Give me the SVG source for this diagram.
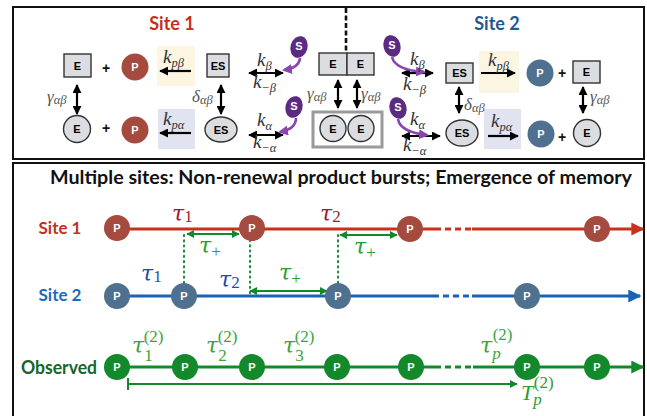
<svg xmlns="http://www.w3.org/2000/svg" width="647" height="416" viewBox="0 0 647 416">
  <style>
    .panel { fill: #ffffff; stroke: #111111; stroke-width: 2; }
    .box { fill: #dcdde0; stroke: #333333; stroke-width: 1.4; }
    .lbl { font-family: "Liberation Sans", Arial, sans-serif; font-weight: bold; font-size: 11px; text-anchor: middle; dominant-baseline: central; }
    .wl { fill: #ffffff; }
    .title { font-family: Lato, "Liberation Sans", sans-serif; font-weight: bold; }
    .plus { font-family: "Liberation Sans", Arial, sans-serif; font-weight: bold; font-size: 14px; text-anchor: middle; dominant-baseline: central; fill: #111; }
    .m { font-family: "Liberation Serif", "Times New Roman", serif; font-style: italic; }
    .rm { font-style: normal; font-family: "Liberation Serif", "Times New Roman", serif; }
    .k { font-size: 19px; fill: #333; }
    .g { font-size: 17px; fill: #555; }
    .sub { font-size: 12.5px; }
    .tau { font-family: "DejaVu Serif", "Liberation Serif", serif; font-style: italic; font-size: 22px; }
    .tsub { font-size: 17px; }
    .arr { stroke: #000; stroke-width: 2.2; fill: none; }
    .parr { stroke: #8a45b0; stroke-width: 2.6; fill: none; }
    .sub-s { fill: #5b2a82; }
    .pred { fill: #a54a3e; }
    .pblue { fill: #50708f; }
    .pgreen { fill: #14892c; }
    .dot { stroke: #1f8a34; stroke-width: 2; stroke-dasharray: 1.2 4; stroke-linecap: round; fill: none; }
  </style>
  <defs>
    <marker id="ah" viewBox="0 0 10 10" refX="9" refY="5" markerWidth="9" markerHeight="9" markerUnits="userSpaceOnUse" orient="auto-start-reverse">
      <path d="M0,0 L10,5 L0,10 Z" fill="#000"/>
    </marker>
    <marker id="ahp" viewBox="0 0 10 10" refX="8" refY="5" markerWidth="10" markerHeight="10" markerUnits="userSpaceOnUse" orient="auto">
      <path d="M0,0 L10,5 L0,10 Z" fill="#8a45b0"/>
    </marker>
    <marker id="ahr" viewBox="0 0 10 10" refX="9" refY="5" markerWidth="13" markerHeight="13" markerUnits="userSpaceOnUse" orient="auto">
      <path d="M0,0 L10,5 L0,10 Z" fill="#c8321c"/>
    </marker>
    <marker id="ahb" viewBox="0 0 10 10" refX="9" refY="5" markerWidth="13" markerHeight="13" markerUnits="userSpaceOnUse" orient="auto">
      <path d="M0,0 L10,5 L0,10 Z" fill="#1a62b6"/>
    </marker>
    <marker id="ahg" viewBox="0 0 10 10" refX="9" refY="5" markerWidth="13" markerHeight="13" markerUnits="userSpaceOnUse" orient="auto">
      <path d="M0,0 L10,5 L0,10 Z" fill="#14892c"/>
    </marker>
    <marker id="ahgs" viewBox="0 0 10 10" refX="9" refY="5" markerWidth="8" markerHeight="8" markerUnits="userSpaceOnUse" orient="auto-start-reverse">
      <path d="M0,0 L10,5 L0,10 Z" fill="#14892c"/>
    </marker>
  </defs>

  <rect width="647" height="416" fill="#ffffff"/>

  <!-- ============ Upper panel: reaction schemes ============ -->
  <rect class="panel" x="13" y="7" width="631" height="152"/>
  <text class="title" x="172" y="30" font-size="18" fill="#c4301c" text-anchor="middle">Site 1</text>
  <text class="title" x="497" y="30" font-size="18" fill="#1f5a92" text-anchor="middle">Site 2</text>

  <!-- shaded rate boxes -->
  <rect x="157" y="46" width="38" height="40" fill="#fcf5e2"/>
  <rect x="158" y="109" width="37" height="40" fill="#e1e3f1"/>
  <rect x="479" y="51" width="40" height="42" fill="#fcf5e2"/>
  <rect x="484" y="109" width="37" height="40" fill="#e1e3f1"/>

  <!-- Site 1 species -->
  <g id="s1-E-beta"><rect class="box" x="64" y="54" width="27" height="23"/><text class="lbl" x="77.5" y="65.5">E</text></g>
  <text class="plus" x="106" y="68">+</text>
  <g id="s1-P-beta"><circle class="pred" cx="135" cy="67" r="13.5"/><text class="lbl wl" x="135" y="67">P</text></g>
  <g id="s1-ES-beta"><rect class="box" x="207" y="54" width="22" height="23"/><text class="lbl" x="218" y="65.5">ES</text></g>
  <g id="s1-E-alpha"><circle class="box" cx="77" cy="129" r="13.5"/><text class="lbl" x="77" y="129">E</text></g>
  <text class="plus" x="106" y="128">+</text>
  <g id="s1-P-alpha"><circle class="pred" cx="135" cy="130" r="13.5"/><text class="lbl wl" x="135" y="130">P</text></g>
  <g id="s1-ES-alpha"><ellipse class="box" cx="221" cy="129.5" rx="16" ry="12.5"/><text class="lbl" x="221" y="129.5">ES</text></g>
  <g id="s1-S-beta"><ellipse class="sub-s" cx="299" cy="47" rx="8.5" ry="11" transform="rotate(15 299 47)"/><text class="lbl wl" x="299" y="46" font-size="10">S</text></g>
  <g id="s1-S-alpha"><ellipse class="sub-s" cx="294" cy="107" rx="8.5" ry="11" transform="rotate(15 294 107)"/><text class="lbl wl" x="294" y="106" font-size="10">S</text></g>

  <!-- shared enzyme between sites -->
  <g id="shared-E-beta">
    <rect class="box" x="319" y="53" width="28" height="22"/>
    <rect class="box" x="347" y="53" width="27" height="22"/>
    <text class="lbl" x="333" y="64">E</text><text class="lbl" x="360.5" y="64">E</text>
  </g>
  <g id="shared-E-alpha">
    <rect x="313" y="112" width="69" height="35" fill="#ffffff" stroke="#9a9a9a" stroke-width="3"/>
    <circle class="box" cx="333" cy="128.5" r="13"/><text class="lbl" x="333" y="128.5">E</text>
    <circle class="box" cx="361" cy="128.5" r="13"/><text class="lbl" x="361" y="128.5">E</text>
  </g>

  <!-- Site 2 species -->
  <g id="s2-S-beta"><ellipse class="sub-s" cx="392" cy="46" rx="8.5" ry="11" transform="rotate(-15 392 46)"/><text class="lbl wl" x="392" y="45" font-size="10">S</text></g>
  <g id="s2-S-alpha"><ellipse class="sub-s" cx="398" cy="108" rx="8.5" ry="11" transform="rotate(-15 398 108)"/><text class="lbl wl" x="398" y="107" font-size="10">S</text></g>
  <g id="s2-ES-beta"><rect class="box" x="446" y="63" width="27" height="20"/><text class="lbl" x="459.5" y="73">ES</text></g>
  <g id="s2-P-beta"><circle class="pblue" cx="540" cy="73" r="13.5"/><text class="lbl wl" x="540" y="73">P</text></g>
  <text class="plus" x="562" y="73">+</text>
  <g id="s2-E-beta"><rect class="box" x="573" y="61" width="27" height="22"/><text class="lbl" x="586.5" y="72">E</text></g>
  <g id="s2-ES-alpha"><ellipse class="box" cx="462" cy="133" rx="16" ry="13"/><text class="lbl" x="462" y="133">ES</text></g>
  <g id="s2-P-alpha"><circle class="pblue" cx="541" cy="134" r="13.5"/><text class="lbl wl" x="541" y="134">P</text></g>
  <text class="plus" x="562" y="137">+</text>
  <g id="s2-E-alpha"><circle class="box" cx="587" cy="133" r="13.5"/><text class="lbl" x="587" y="133">E</text></g>

  <!-- upper panel connectors -->
  <g id="scheme-connectors">
    <line x1="346" y1="8" x2="346" y2="53" stroke="#111" stroke-width="2.6" stroke-dasharray="5 2.5"/>
    <!-- Site 1 -->
    <line class="arr" x1="191" y1="71" x2="160" y2="71" marker-end="url(#ah)"/>
    <line class="arr" x1="191" y1="133" x2="160" y2="133" marker-end="url(#ah)"/>
    <line class="arr" x1="77" y1="85" x2="77" y2="114" marker-start="url(#ah)" marker-end="url(#ah)"/>
    <line class="arr" x1="221" y1="85" x2="221" y2="114" marker-start="url(#ah)" marker-end="url(#ah)"/>
    <line class="arr" x1="249" y1="73" x2="283" y2="73" marker-start="url(#ah)" marker-end="url(#ah)"/>
    <line class="arr" x1="249" y1="135" x2="283" y2="135" marker-start="url(#ah)" marker-end="url(#ah)"/>
    <path class="parr" d="M300,58 Q299,68 284,70" marker-end="url(#ahp)"/>
    <path class="parr" d="M296,118 Q296,129 280,132" marker-end="url(#ahp)"/>
    <!-- shared -->
    <line class="arr" x1="338" y1="80" x2="338" y2="108" marker-start="url(#ah)" marker-end="url(#ah)"/>
    <line class="arr" x1="357" y1="80" x2="357" y2="108" marker-start="url(#ah)" marker-end="url(#ah)"/>
    <!-- Site 2 -->
    <line class="arr" x1="402" y1="73" x2="433" y2="73" marker-start="url(#ah)" marker-end="url(#ah)"/>
    <line class="arr" x1="402" y1="136" x2="440" y2="136" marker-start="url(#ah)" marker-end="url(#ah)"/>
    <path class="parr" d="M392,57 Q395,70 424,72" marker-end="url(#ahp)"/>
    <path class="parr" d="M398,119 Q400,132 427,135" marker-end="url(#ahp)"/>
    <line class="arr" x1="481" y1="73" x2="515" y2="73" marker-end="url(#ah)"/>
    <line class="arr" x1="488" y1="136" x2="518" y2="136" marker-end="url(#ah)"/>
    <line class="arr" x1="459" y1="87" x2="459" y2="113" marker-start="url(#ah)" marker-end="url(#ah)"/>
    <line class="arr" x1="583" y1="87" x2="583" y2="113" marker-start="url(#ah)" marker-end="url(#ah)"/>
  </g>

  <!-- rate labels -->
  <g id="rate-labels">
    <text class="m k" x="163" y="63">k<tspan class="sub" dy="4">pβ</tspan></text>
    <text class="m k" x="163" y="125">k<tspan class="sub" dy="4">pα</tspan></text>
    <text class="m g" x="47" y="102">γ<tspan class="sub" dy="2">αβ</tspan></text>
    <text class="m g" x="192" y="102">δ<tspan class="sub" dy="2">αβ</tspan></text>
    <text class="m k" x="257" y="66">k<tspan class="sub" dy="4">β</tspan></text>
    <text class="m k" x="253" y="88">k<tspan class="sub" dy="4">−β</tspan></text>
    <text class="m k" x="257" y="126">k<tspan class="sub" dy="4">α</tspan></text>
    <text class="m k" x="253" y="148">k<tspan class="sub" dy="4">−α</tspan></text>
    <text class="m g" x="307" y="99">γ<tspan class="sub" dy="2">αβ</tspan></text>
    <text class="m g" x="361" y="99">γ<tspan class="sub" dy="2">αβ</tspan></text>
    <text class="m k" x="410" y="65">k<tspan class="sub" dy="4">β</tspan></text>
    <text class="m k" x="403" y="90">k<tspan class="sub" dy="4">−β</tspan></text>
    <text class="m k" x="410" y="125">k<tspan class="sub" dy="4">α</tspan></text>
    <text class="m k" x="403" y="151">k<tspan class="sub" dy="4">−α</tspan></text>
    <text class="m k" x="488" y="66">k<tspan class="sub" dy="4">pβ</tspan></text>
    <text class="m k" x="491" y="127">k<tspan class="sub" dy="4">pα</tspan></text>
    <text class="m g" x="464" y="110">δ<tspan class="sub" dy="2">αβ</tspan></text>
    <text class="m g" x="590" y="102">γ<tspan class="sub" dy="2">αβ</tspan></text>
  </g>

  <!-- ============ Lower panel: product timelines ============ -->
  <rect class="panel" x="13" y="163" width="631" height="270"/>
  <text class="title" x="341" y="184" font-size="18" fill="#111" text-anchor="middle" textLength="582" lengthAdjust="spacingAndGlyphs">Multiple sites: Non-renewal product bursts; Emergence of memory</text>

  <text class="title" x="60" y="234" font-size="17" fill="#c4301c" text-anchor="middle">Site 1</text>
  <text class="title" x="60" y="301" font-size="17" fill="#1a6ac0" text-anchor="middle">Site 2</text>
  <text class="title" x="59" y="374" font-size="18" fill="#15662a" text-anchor="middle" textLength="76" lengthAdjust="spacingAndGlyphs">Observed</text>

  <g id="timeline-connectors">
    <!-- site 1 axis -->
    <line x1="117" y1="229" x2="435" y2="229" stroke="#c8321c" stroke-width="3"/>
    <line x1="435" y1="229" x2="472" y2="229" stroke="#c8321c" stroke-width="3" stroke-dasharray="6 4"/>
    <line x1="472" y1="229" x2="643" y2="229" stroke="#c8321c" stroke-width="3" marker-end="url(#ahr)"/>
    <!-- site 2 axis -->
    <line x1="117" y1="296" x2="433" y2="296" stroke="#1a62b6" stroke-width="3"/>
    <line x1="433" y1="296" x2="472" y2="296" stroke="#1a62b6" stroke-width="3" stroke-dasharray="6 4"/>
    <line x1="472" y1="296" x2="640" y2="296" stroke="#1a62b6" stroke-width="3" marker-end="url(#ahb)"/>
    <!-- observed axis -->
    <line x1="117" y1="367" x2="435" y2="367" stroke="#14892c" stroke-width="3"/>
    <line x1="435" y1="367" x2="473" y2="367" stroke="#14892c" stroke-width="3" stroke-dasharray="6 4"/>
    <line x1="473" y1="367" x2="643" y2="367" stroke="#14892c" stroke-width="3" marker-end="url(#ahg)"/>
    <!-- dotted alignment lines -->
    <line class="dot" x1="184" y1="235" x2="184" y2="283"/>
    <line class="dot" x1="250" y1="240" x2="250" y2="296"/>
    <line class="dot" x1="338" y1="235" x2="338" y2="283"/>
    <!-- waiting-time arrows -->
    <line x1="187" y1="234" x2="239" y2="234" stroke="#14892c" stroke-width="2.2" marker-start="url(#ahgs)" marker-end="url(#ahgs)"/>
    <line x1="340" y1="235" x2="397" y2="235" stroke="#14892c" stroke-width="2.2" marker-start="url(#ahgs)" marker-end="url(#ahgs)"/>
    <line x1="250" y1="291" x2="327" y2="291" stroke="#14892c" stroke-width="2.2" marker-start="url(#ahgs)" marker-end="url(#ahgs)"/>
    <!-- total time span -->
    <line x1="128" y1="378" x2="128" y2="390" stroke="#14892c" stroke-width="2"/>
    <line x1="128" y1="384" x2="517" y2="384" stroke="#14892c" stroke-width="2" marker-end="url(#ahgs)"/>
  </g>

  <!-- product events -->
  <g id="site1-events">
    <g id="s1-p1"><circle class="pred" cx="117" cy="228" r="13"/><text class="lbl wl" x="117" y="228">P</text></g>
    <g id="s1-p2"><circle class="pred" cx="252" cy="228" r="13"/><text class="lbl wl" x="252" y="228">P</text></g>
    <g id="s1-p3"><circle class="pred" cx="410" cy="229" r="13"/><text class="lbl wl" x="410" y="229">P</text></g>
    <g id="s1-p4"><circle class="pred" cx="597" cy="229" r="13"/><text class="lbl wl" x="597" y="229">P</text></g>
  </g>
  <g id="site2-events">
    <g id="s2-p1"><circle class="pblue" cx="117" cy="296" r="13"/><text class="lbl wl" x="117" y="296">P</text></g>
    <g id="s2-p2"><circle class="pblue" cx="184" cy="296" r="13"/><text class="lbl wl" x="184" y="296">P</text></g>
    <g id="s2-p3"><circle class="pblue" cx="338" cy="296" r="13"/><text class="lbl wl" x="338" y="296">P</text></g>
    <g id="s2-p4"><circle class="pblue" cx="527" cy="296" r="13"/><text class="lbl wl" x="527" y="296">P</text></g>
  </g>
  <g id="observed-events">
    <g id="o-p1"><circle class="pgreen" cx="117" cy="367" r="13"/><text class="lbl wl" x="117" y="367">P</text></g>
    <g id="o-p2"><circle class="pgreen" cx="185" cy="367" r="13"/><text class="lbl wl" x="185" y="367">P</text></g>
    <g id="o-p3"><circle class="pgreen" cx="252" cy="367" r="13"/><text class="lbl wl" x="252" y="367">P</text></g>
    <g id="o-p4"><circle class="pgreen" cx="337" cy="367" r="13"/><text class="lbl wl" x="337" y="367">P</text></g>
    <g id="o-p5"><circle class="pgreen" cx="411" cy="367" r="13"/><text class="lbl wl" x="411" y="367">P</text></g>
    <g id="o-p6"><circle class="pgreen" cx="527" cy="367" r="13"/><text class="lbl wl" x="527" y="367">P</text></g>
    <g id="o-p7"><circle class="pgreen" cx="597" cy="367" r="13"/><text class="lbl wl" x="597" y="367">P</text></g>
  </g>

  <!-- interval labels -->
  <g id="interval-labels">
    <text class="tau" x="172" y="221" fill="#a3172f">τ<tspan class="rm tsub" dy="1">1</tspan></text>
    <text class="tau" x="320" y="221" fill="#a3172f">τ<tspan class="rm tsub" dy="1">2</tspan></text>
    <text class="tau" x="199" y="253" fill="#2a9e30">τ<tspan class="rm tsub" dy="4">+</tspan></text>
    <text class="tau" x="354" y="254" fill="#2a9e30">τ<tspan class="rm tsub" dy="4">+</tspan></text>
    <text class="tau" x="141" y="281" fill="#1d4ea8">τ<tspan class="rm tsub" dy="1">1</tspan></text>
    <text class="tau" x="219" y="287" fill="#1d4ea8">τ<tspan class="rm tsub" dy="1">2</tspan></text>
    <text class="tau" x="279" y="280" fill="#2a9e30">τ<tspan class="rm tsub" dy="4">+</tspan></text>

    <text class="tau" x="132" y="353" fill="#3aa53a">τ<tspan class="rm tsub" dy="8">1</tspan><tspan class="rm tsub" dx="-9" dy="-19">(2)</tspan></text>
    <text class="tau" x="206" y="353" fill="#3aa53a">τ<tspan class="rm tsub" dy="8">2</tspan><tspan class="rm tsub" dx="-9" dy="-19">(2)</tspan></text>
    <text class="tau" x="283" y="353" fill="#3aa53a">τ<tspan class="rm tsub" dy="8">3</tspan><tspan class="rm tsub" dx="-9" dy="-19">(2)</tspan></text>
    <text class="tau" x="480" y="353" fill="#3aa53a">τ<tspan class="m tsub" dy="6">p</tspan><tspan class="rm tsub" dx="-8" dy="-19">(2)</tspan></text>
    <text class="m" x="521" y="400" font-size="22" fill="#2e9a2e">T<tspan class="tsub" dy="5">p</tspan><tspan class="rm tsub" dx="-8" dy="-17">(2)</tspan></text>
  </g>
</svg>
